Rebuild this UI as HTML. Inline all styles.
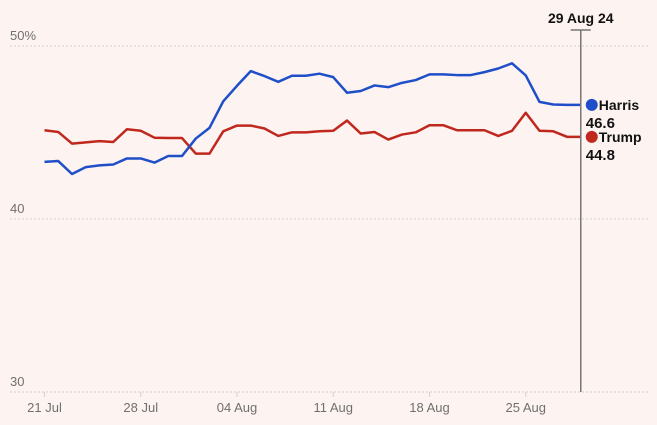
<!DOCTYPE html>
<html><head><meta charset="utf-8"><style>
html,body{margin:0;padding:0;background:#fdf3f1;}
svg{display:block;font-family:"Liberation Sans",sans-serif;}
</style></head><body>
<svg width="657" height="425">
<rect width="657" height="425" fill="#fdf3f1"/>
<g id="grid"></g><g id="xaxis"></g><g id="lines"></g><g id="ann"></g>
</svg>
<script>
const harris=[43.3,43.35,42.6,43.0,43.1,43.15,43.5,43.5,43.26,43.64,43.64,44.65,45.27,46.8,47.7,48.55,48.26,47.93,48.28,48.28,48.4,48.2,47.3,47.4,47.72,47.62,47.87,48.03,48.36,48.36,48.32,48.32,48.49,48.7,49.0,48.3,46.77,46.62,46.6,46.6];
const trump=[45.13,45.03,44.36,44.43,44.5,44.45,45.19,45.1,44.7,44.68,44.68,43.78,43.78,45.07,45.4,45.4,45.23,44.8,45.01,45.01,45.07,45.1,45.69,44.94,45.03,44.59,44.88,45.01,45.42,45.42,45.13,45.13,45.13,44.8,45.1,46.14,45.1,45.07,44.75,44.75];
const yTicks=[50,40,30];
const yTickLabels=["50%","40","30"];
const xTickDays=[0,7,14,21,28,35];
const xTickLabels=["21 Jul","28 Jul","04 Aug","11 Aug","18 Aug","25 Aug"];
const endLabels=["46.6","44.8"];
const x=d=>44.5+13.75*d;
const y=v=>46+(50-v)*17.3;
const NS="http://www.w3.org/2000/svg";
function mk(tag,attrs,parent){const e=document.createElementNS(NS,tag);for(const k in attrs)e.setAttribute(k,attrs[k]);parent.appendChild(e);return e;}
const grid=document.getElementById('grid'),xa=document.getElementById('xaxis'),ln=document.getElementById('lines'),ann=document.getElementById('ann');
yTicks.forEach((t,i)=>{
 const l=mk('line',{x1:10,x2:650,y1:y(t),y2:y(t),stroke:'#d6d0ce','stroke-dasharray':'2,2'},grid);
 
 
 const tx=mk('text',{x:10,y:y(t)-6,'font-size':13,fill:'#707070'},grid);tx.textContent=yTickLabels[i];
 
 
});
xTickDays.forEach((d,i)=>{
 const l=mk('line',{x1:x(d),x2:x(d),y1:392,y2:397,stroke:'#d6d0ce'},xa);
 
 
 const tx=mk('text',{x:x(d),y:412,'font-size':13,fill:'#707070','text-anchor':'middle'},xa);tx.textContent=xTickLabels[i];
 
 
});
function series(arr,col,name){
 const p=mk('polyline',{points:arr.map((v,i)=>x(i)+','+y(v)).join(' '),fill:'none',stroke:col,'stroke-width':2.5,'stroke-linejoin':'round'},ln);
 
 
}
series(trump,'#c0281e','trump-line');
series(harris,'#1f4fc8','harris-line');
const last=harris.length-1, lx=x(last);
const vl=mk('line',{x1:lx,x2:lx,y1:30,y2:392,stroke:'#777','stroke-width':1.5},ann);


const cap=mk('line',{x1:lx-10,x2:lx+10,y1:30,y2:30,stroke:'#777','stroke-width':1.5},ann);


const dt=mk('text',{x:lx,y:23,'font-size':14,'font-weight':'bold',fill:'#121212','text-anchor':'middle'},ann);dt.textContent='29 Aug 24';


[[harris,'#1f4fc8','Harris',0],[trump,'#c0281e','Trump',1]].forEach(([arr,col,nm,i])=>{
 const cy=y(arr[last]);
 const c=mk('circle',{cx:lx+11,cy:cy,r:6,fill:col},ann);
 
 
 const t=mk('text',{x:lx+18,y:cy+5,'font-size':14,'font-weight':'bold',fill:'#121212'},ann);t.textContent=nm;
 
 
 const v=mk('text',{x:lx+5,y:cy+23,'font-size':15,'font-weight':'bold',fill:'#121212'},ann);v.textContent=endLabels[i];
 
 
});
</script>
</body></html>
